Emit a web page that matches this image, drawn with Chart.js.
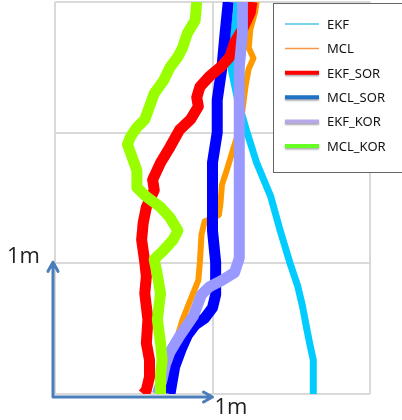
<!DOCTYPE html>
<html>
<head>
<meta charset="utf-8">
<script src="https://cdn.jsdelivr.net/npm/chart.js@4.4.0/dist/chart.umd.min.js"></script>
<style>
  html, body { margin: 0; padding: 0; background: #fff; }
  #wrap { width: 402px; height: 420px; }
</style>
</head>
<body>
<div id="wrap"><canvas id="c" width="402" height="420"></canvas></div>
<script>
// Series names, in legend order
var seriesNames = ['EKF', 'MCL', 'EKF_SOR', 'MCL_SOR', 'EKF_KOR', 'MCL_KOR'];

// Trajectories in metres (x = lateral, y = forward)
var ekfX = [1.64, 1.64, 1.62, 1.60, 1.57, 1.54, 1.49, 1.43, 1.37, 1.28, 1.22, 1.16, 1.12, 1.13, 1.16];
var ekfY = [0, 0.26, 0.37, 0.49, 0.68, 0.83, 1.01, 1.25, 1.51, 1.77, 2.00, 2.25, 2.48, 2.71, 3.00];

var mclX = [1.28, 1.27, 1.24, 1.23, 1.26, 1.23, 1.21, 1.19, 1.17, 1.13, 1.09, 1.06, 1.05, 1.04, 0.95, 0.93, 0.92, 0.91, 0.86, 0.81, 0.76, 0.70, 0.67];
var mclY = [3.00, 2.92, 2.79, 2.65, 2.57, 2.49, 2.36, 2.17, 2.02, 1.87, 1.71, 1.60, 1.45, 1.37, 1.32, 1.22, 1.01, 0.87, 0.72, 0.57, 0.37, 0.22, 0];

var ekfSorX = [1.25, 1.24, 1.19, 1.14, 1.11, 1.05, 0.98, 0.92, 0.90, 0.91, 0.86, 0.79, 0.73, 0.67, 0.62, 0.63, 0.58, 0.56, 0.55, 0.57, 0.58, 0.57, 0.59, 0.58, 0.60, 0.60, 0.58, 0.56];
var ekfSorY = [3.00, 2.92, 2.79, 2.69, 2.58, 2.50, 2.43, 2.35, 2.27, 2.20, 2.10, 2.02, 1.89, 1.77, 1.64, 1.56, 1.43, 1.31, 1.18, 1.01, 0.90, 0.77, 0.57, 0.39, 0.26, 0.13, 0.03, 0];

var mclSorX = [1.10, 1.08, 1.06, 1.03, 1.03, 1.00, 1.00, 1.00, 1.02, 1.02, 1.00, 0.95, 0.89, 0.84, 0.80, 0.76, 0.74, 0.73];
var mclSorY = [3.00, 2.76, 2.50, 2.25, 2.00, 1.77, 1.51, 1.25, 1.01, 0.76, 0.66, 0.58, 0.53, 0.45, 0.34, 0.21, 0.07, 0];

var ekfKorX = [1.19, 1.19, 1.17, 1.17, 1.17, 1.17, 1.17, 1.17, 1.17, 1.14, 1.06, 0.98, 0.93, 0.88, 0.79, 0.73, 0.70, 0.68, 0.65];
var ekfKorY = [3.00, 2.76, 2.50, 2.25, 2.00, 1.75, 1.48, 1.18, 1.04, 0.93, 0.87, 0.82, 0.76, 0.60, 0.44, 0.32, 0.22, 0.11, 0];

var mclKorX = [0.90, 0.89, 0.84, 0.81, 0.78, 0.73, 0.69, 0.63, 0.60, 0.57, 0.52, 0.48, 0.46, 0.49, 0.52, 0.52, 0.58, 0.67, 0.73, 0.78, 0.75, 0.69, 0.63, 0.65, 0.67, 0.65, 0.67, 0.68, 0.67, 0.67];
var mclKorY = [3.00, 2.86, 2.76, 2.65, 2.58, 2.50, 2.40, 2.30, 2.20, 2.10, 2.04, 1.97, 1.91, 1.81, 1.71, 1.58, 1.51, 1.43, 1.35, 1.25, 1.18, 1.10, 1.03, 0.91, 0.77, 0.57, 0.39, 0.26, 0.15, 0];

// Colours of the plotted lines and of the legend samples (they differ in the original)
var lineColors = ['#00ccff', '#ff9900', '#ff0000', '#0000ff', '#9999ff', '#99ff00'];
var lineWidths = [7, 6, 11, 11, 11, 11];
var drawOrder = [6, 5, 3, 4, 2, 1];
var legendColors = ['#4bc6df', '#f79646', '#ff0000', '#1f72c4', '#b7a9e8', '#66ff22'];
var legendWidths = [1.5, 1.5, 4, 4, 4, 4];

var allX = [ekfX, mclX, ekfSorX, mclSorX, ekfKorX, mclKorX];
var allY = [ekfY, mclY, ekfSorY, mclSorY, ekfKorY, mclKorY];

function toPoints(xs, ys) {
    var pts = [];
    for (var i = 0; i < xs.length; i++) pts.push({ x: xs[i], y: ys[i] });
    return pts;
}

var datasets = [];
for (var i = 0; i < seriesNames.length; i++) {
    datasets.push({
        label: seriesNames[i],
        data: toPoints(allX[i], allY[i]),
        showLine: true,
        borderColor: lineColors[i],
        backgroundColor: lineColors[i],
        borderWidth: lineWidths[i],
        borderJoinStyle: 'round',
        borderCapStyle: 'butt',
        pointRadius: 0,
        tension: 0,
        order: drawOrder[i]
    });
}

// Blue "1m" scale arrows from the origin
var arrowPlugin = {
    id: 'arrows',
    afterDatasetsDraw: function(chart) {
        var ctx = chart.ctx;
        var xs = chart.scales.x, ys = chart.scales.y;
        var ox = xs.getPixelForValue(0) - 2;
        var oy = ys.getPixelForValue(0) + 3;
        var tx = xs.getPixelForValue(1);
        var ty = ys.getPixelForValue(1) - 1;
        ctx.save();
        ctx.strokeStyle = '#4a7ebb';
        ctx.lineWidth = 3;
        ctx.lineCap = 'round';
        ctx.lineJoin = 'round';
        ctx.beginPath();
        ctx.moveTo(ox, oy);
        ctx.lineTo(ox, ty);
        ctx.moveTo(ox - 5, ty + 9);
        ctx.lineTo(ox, ty);
        ctx.lineTo(ox + 5, ty + 9);
        ctx.moveTo(ox, oy);
        ctx.lineTo(tx, oy);
        ctx.moveTo(tx - 9, oy - 5);
        ctx.lineTo(tx, oy);
        ctx.lineTo(tx - 9, oy + 5);
        ctx.stroke();
        ctx.fillStyle = '#222';
        ctx.font = '22px "Open Sans", "Noto Sans", sans-serif';
        ctx.textBaseline = 'alphabetic';
        ctx.textAlign = 'left';
        ctx.fillText('1m', 7, ty + 1);
        ctx.fillText('1m', tx + 2, oy + 17);
        ctx.restore();
    }
};

// Boxed legend in the top-right corner
var legendPlugin = {
    id: 'boxLegend',
    afterDraw: function(chart) {
        var ctx = chart.ctx;
        ctx.save();
        ctx.fillStyle = '#ffffff';
        ctx.fillRect(273, 3, 140, 169);
        ctx.strokeStyle = '#666666';
        ctx.lineWidth = 1;
        ctx.strokeRect(273.5, 3.5, 140, 169);
        ctx.font = '13px "Noto Sans", "Open Sans", sans-serif';
        ctx.textBaseline = 'middle';
        ctx.textAlign = 'left';
        for (var i = 0; i < seriesNames.length; i++) {
            var y = 24 + i * 24.4;
            ctx.save();
            if (legendWidths[i] > 2) {
                ctx.shadowColor = 'rgba(0,0,0,0.35)';
                ctx.shadowBlur = 2;
                ctx.shadowOffsetY = 1.5;
            }
            ctx.strokeStyle = legendColors[i];
            ctx.lineWidth = legendWidths[i];
            ctx.beginPath();
            ctx.moveTo(285, y);
            ctx.lineTo(319, y);
            ctx.stroke();
            ctx.restore();
            ctx.fillStyle = '#111';
            ctx.fillText(seriesNames[i], 327, y + 1);
        }
        ctx.restore();
    }
};

new Chart(document.getElementById('c'), {
    type: 'scatter',
    data: { datasets: datasets },
    options: {
        responsive: false,
        animation: false,
        layout: { padding: { left: 55, right: 32, top: 2, bottom: 26 } },
        plugins: { legend: { display: false }, tooltip: { enabled: false } },
        scales: {
            x: {
                type: 'linear', min: 0, max: 2,
                ticks: { display: false, stepSize: 1 },
                grid: { color: '#d9d9d9', lineWidth: 2, drawTicks: false },
                border: { display: false }
            },
            y: {
                type: 'linear', min: 0, max: 3,
                ticks: { display: false, stepSize: 1 },
                grid: { color: '#d9d9d9', lineWidth: 2, drawTicks: false },
                border: { display: false }
            }
        }
    },
    plugins: [arrowPlugin, legendPlugin]
});
</script>
</body>
</html>
